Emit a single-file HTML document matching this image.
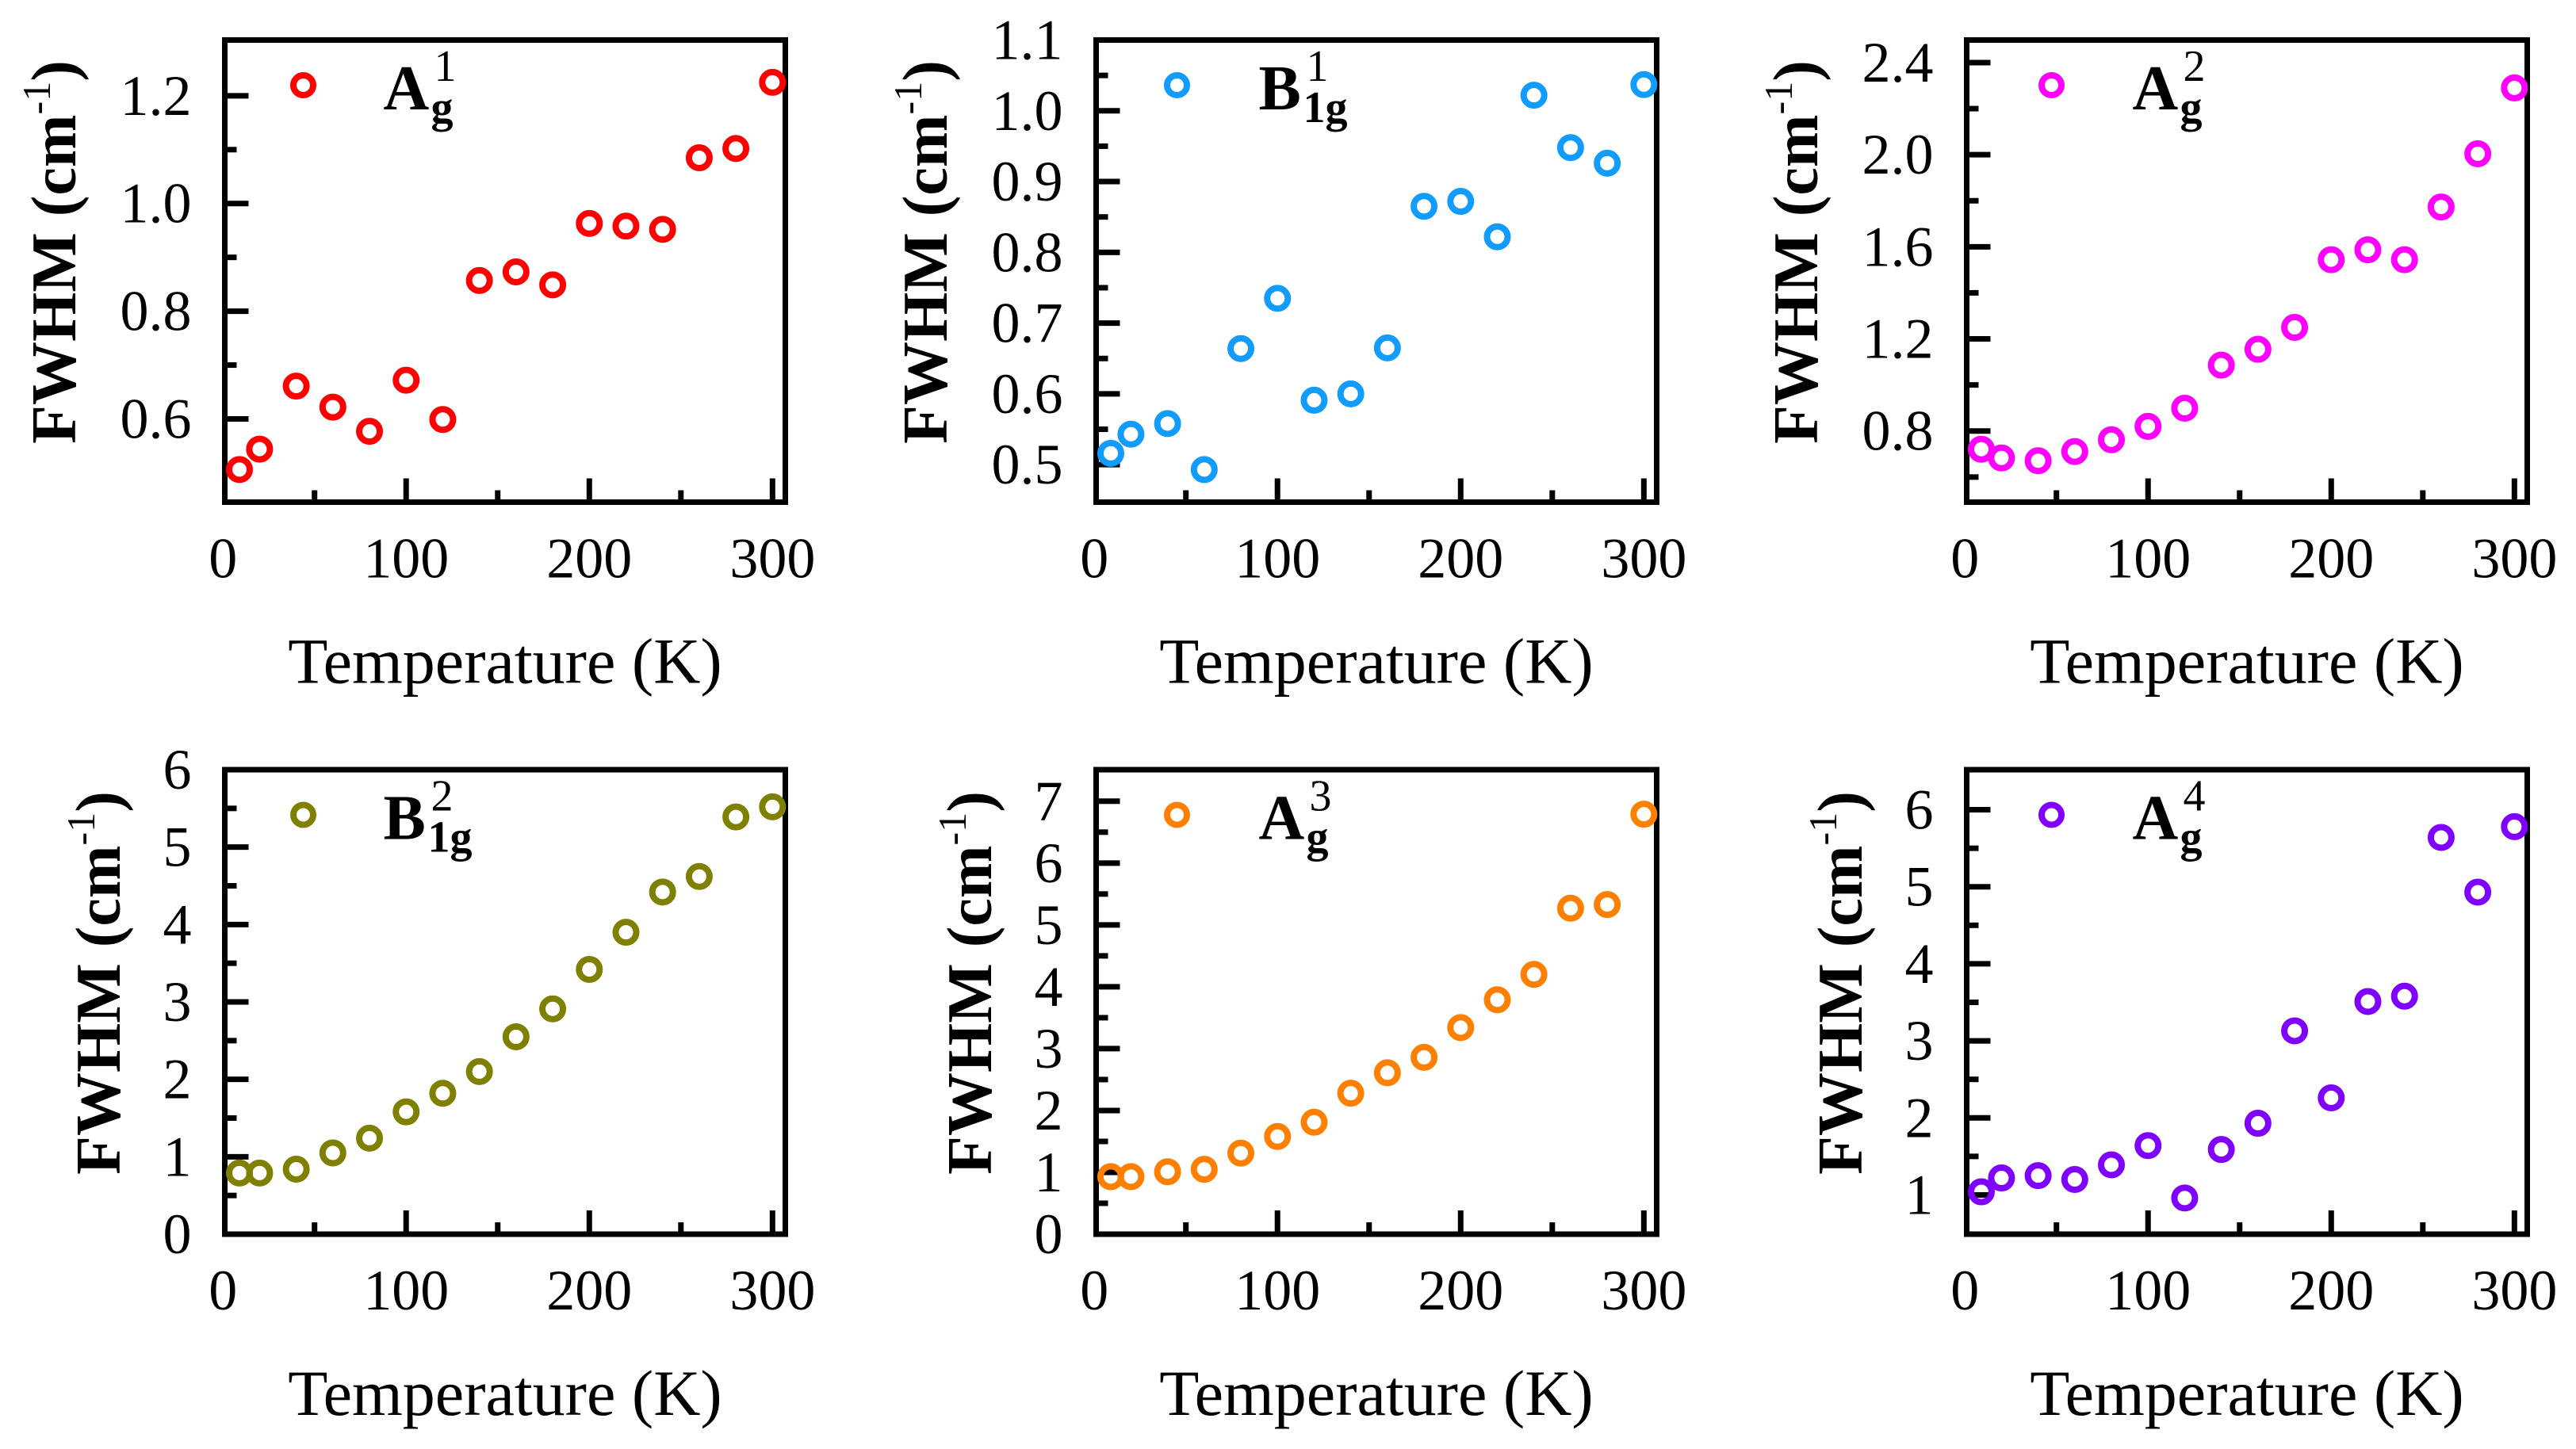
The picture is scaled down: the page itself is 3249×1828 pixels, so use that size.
<!DOCTYPE html>
<html><head><meta charset="utf-8">
<style>
html,body{margin:0;padding:0;background:#fff;}
svg{display:block;}
text{font-family:"Liberation Serif",serif;fill:#000;}
</style></head>
<body>
<svg id="fig" width="3249" height="1828" viewBox="0 0 3249 1828" xmlns="http://www.w3.org/2000/svg"></svg>
<script>
const temps = [9,20,40,60,80,100,120,140,160,180,200,220,240,260,280,300];
const fwhmAg1 = [0.506,0.544,0.661,0.622,0.577,0.672,0.599,0.857,0.873,0.849,0.963,0.958,0.952,1.085,1.102,1.225];
const fwhmB1g1 = [0.516,0.543,0.558,0.493,0.664,0.735,0.591,0.600,0.665,0.865,0.872,0.822,1.022,0.948,0.926,1.037];
const fwhmAg2 = [0.721,0.683,0.671,0.711,0.762,0.820,0.899,1.086,1.155,1.250,1.544,1.587,1.544,1.773,2.004,2.290];
const fwhmB1g2 = [0.79,0.79,0.84,1.05,1.24,1.58,1.82,2.10,2.55,2.91,3.42,3.90,4.42,4.62,5.39,5.52];
const fwhmAg3 = [0.93,0.93,1.01,1.05,1.31,1.58,1.81,2.28,2.61,2.86,3.34,3.79,4.20,5.27,5.33,6.79];
const fwhmAg4 = [1.04,1.22,1.25,1.20,1.39,1.64,0.96,1.59,1.93,3.13,2.26,3.51,3.58,5.64,4.93,5.78];
const xTickLabels = ["0","100","200","300"];
const xTickValues = [0,100,200,300];
const xMinorValues = [50,150,250];
const xDomain = [1,307];

const NS="http://www.w3.org/2000/svg";
const svg=document.getElementById('fig');
function el(tag,attrs,parent){const e=document.createElementNS(NS,tag);for(const k in attrs)e.setAttribute(k,attrs[k]);(parent||svg).appendChild(e);return e;}

const panels=[
 {id:'ag1',data:fwhmAg1,color:'#ff0000',left:283.5,top:50.5,ymin:0.4455,ymax:1.3035,major:[0.6,0.8,1.0,1.2],minor:[0.7,0.9,1.1],dec:1,main:'A',sub:'g',sup:'1',mk:99,tx:200,title:95},
 {id:'b1g1',data:fwhmB1g1,color:'#129cff',left:1382.5,top:50.5,ymin:0.447,ymax:1.1,major:[0.5,0.6,0.7,0.8,0.9,1.0,1.1],minor:[0.55,0.65,0.75,0.85,0.95,1.05],dec:1,main:'B',sub:'1g',sup:'1',mk:102,tx:205,title:95},
 {id:'ag2',data:fwhmAg2,color:'#ff00ff',left:2480.5,top:50.5,ymin:0.491,ymax:2.498,major:[0.8,1.2,1.6,2.0,2.4],minor:[0.6,1.0,1.4,1.8,2.2],dec:1,main:'A',sub:'g',sup:'2',mk:107,tx:209,title:95},
 {id:'b1g2',data:fwhmB1g2,color:'#808000',left:283.5,top:971,ymin:0,ymax:6,major:[0,1,2,3,4,5,6],minor:[0.5,1.5,2.5,3.5,4.5,5.5],dec:0,main:'B',sub:'1g',sup:'2',mk:99,tx:200,title:151},
 {id:'ag3',data:fwhmAg3,color:'#ff8000',left:1382.5,top:971,ymin:0,ymax:7.51,major:[0,1,2,3,4,5,6,7],minor:[0.5,1.5,2.5,3.5,4.5,5.5,6.5],dec:0,main:'A',sub:'g',sup:'3',mk:102,tx:205,title:151},
 {id:'ag4',data:fwhmAg4,color:'#8000ff',left:2480.5,top:971,ymin:0.49,ymax:6.52,major:[1,2,3,4,5,6],minor:[1.5,2.5,3.5,4.5,5.5],dec:0,main:'A',sub:'g',sup:'4',mk:107,tx:209,title:151}
];
const W=707, H0=583, H1=586;

panels.forEach((p,pi)=>{
  const H = pi<3?H0:H1;
  const g=el('g',{});
  
  
  const L=p.left,T=p.top,R=L+W,B=T+H;
  const xs=v=>L+(v-xDomain[0])/(xDomain[1]-xDomain[0])*W;
  const ys=v=>B-(v-p.ymin)/(p.ymax-p.ymin)*H;
  const tg=el('g',{stroke:'#000','stroke-width':7},g);
  
  
  xTickValues.forEach(v=>{const x=xs(v); if(x>L+4) el('line',{x1:x,y1:B,x2:x,y2:B-30},tg);});
  xMinorValues.forEach(v=>{const x=xs(v); el('line',{x1:x,y1:B,x2:x,y2:B-15},tg);});
  p.major.forEach(v=>{const y=ys(v); if(y>T+4&&y<B-4) el('line',{x1:L,y1:y,x2:L+30,y2:y},tg);});
  p.minor.forEach(v=>{const y=ys(v); if(y>T+4&&y<B-4) el('line',{x1:L,y1:y,x2:L+15,y2:y},tg);});
  const fr=el('rect',{x:L,y:T,width:W,height:H,fill:'none',stroke:'#000','stroke-width':7},g);
  
  
  xTickValues.forEach((v,i)=>{
    const t=el('text',{x:xs(v),y:B+95,'text-anchor':'middle','font-size':72},g);
    
    
    t.textContent=xTickLabels[i];
  });
  p.major.forEach(v=>{
    const t=el('text',{x:L-42,y:ys(v)+24,'text-anchor':'end','font-size':72},g);
    
    
    t.textContent=v.toFixed(p.dec);
  });
  const xt=el('text',{x:L+W/2,y:B+228,'text-anchor':'middle','font-size':82},g);
  
  
  xt.textContent='Temperature (K)';
  const cy=T+H/2-24, bx=L-283.5+p.title;
  const yt=el('text',{x:0,y:0,'text-anchor':'middle','font-size':80,'font-weight':'bold',transform:`translate(${bx},${cy}) rotate(-90)`},g);
  
  
  yt.appendChild(document.createTextNode('FWHM (cm'));
  const s1=el('tspan',{'font-size':50,'font-weight':'normal',dy:-32},yt); s1.textContent='-1';
  const s2=el('tspan',{dy:32},yt); s2.textContent=')';
  const dg=el('g',{fill:'none',stroke:p.color,'stroke-width':8},g);
  
  
  temps.forEach((tv,i)=>{
    const c=el('circle',{cx:xs(tv),cy:ys(p.data[i]),r:13},dg);
    
    
  });
  const lg=el('g',{},g);
  
  
  el('circle',{cx:L+p.mk,cy:T+57,r:12.5,fill:'none',stroke:p.color,'stroke-width':8},lg);
  const tx=L+p.tx, by=T+87.5;
  const m=el('text',{x:tx,y:by,'font-size':80,'font-weight':'bold'},lg); m.textContent=p.main;
  const mw = p.main==='A'?58:54;
  const sb=el('text',{x:tx+mw+2,y:by+16,'font-size':56,'font-weight':'bold'},lg); sb.textContent=p.sub;
  const sp=el('text',{x:tx+mw+6,y:by-36,'font-size':56},lg); sp.textContent=p.sup;
});
</script>
</body></html>
